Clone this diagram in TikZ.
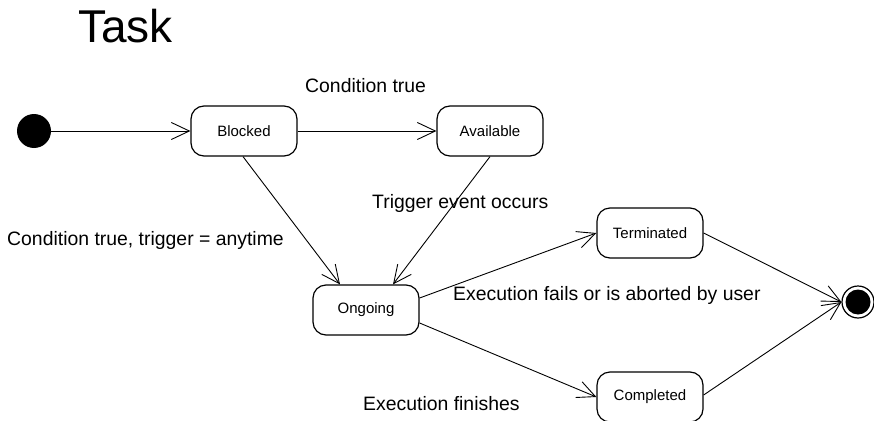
\documentclass[tikz,border=0pt]{standalone}
\usepackage{fontspec}
\setmainfont{Liberation Sans}
\usetikzlibrary{arrows.meta,calc}

\tikzset{
  state/.style={draw, line width=1.2pt, rounded corners=13pt,
    minimum width=106pt, minimum height=50pt, inner sep=0pt,
    font=\fontsize{15}{18}\selectfont},
  trans/.style={line width=0.9pt,
    -{Straight Barb[length=18pt,width=17pt,line width=0.9pt]}},
  lbl/.style={anchor=base west, inner sep=0pt,
    font=\fontsize{19.4}{23}\selectfont},
}

\begin{document}
\begin{tikzpicture}[x=1pt, y=-1pt]
  \useasboundingbox (0,0) rectangle (874,420);

  % title
  \node[anchor=base west, inner sep=0pt, font=\fontsize{46}{50}\selectfont]
    (title) at (78,43) {Task};

  % pseudo states
  \fill (34,131) circle (17pt) coordinate (init);
  \node[circle, draw, line width=1.2pt, minimum size=32pt, inner sep=0pt]
    (final) at (858,302) {};
  \fill (final.center) circle (12.5pt);

  % states
  \node[state] (blocked)    at (244,131) {Blocked};
  \node[state] (available)  at (490,131) {Available};
  \node[state] (ongoing)    at (366,310) {Ongoing};
  \node[state] (terminated) at (650,233) {Terminated};
  \node[state] (completed)  at (650,397) {Completed};

  % transitions
  \draw[trans] (51,131) -- (blocked.west);
  \draw[trans] (blocked.east) -- (available.west);
  \draw[trans] ($(blocked.south)+(-1,0)$) -- ($(ongoing.north)+(-26,0)$);
  \draw[trans] (available.south) -- ($(ongoing.north)+(27,0)$);
  \draw[trans] ($(ongoing.east)+(0,-12)$) -- (terminated.west);
  \draw[trans] ($(ongoing.east)+(0,13)$) -- (completed.west);
  \draw[trans] (terminated.east) -- (final.west);
  \draw[trans] ($(completed.east)+(0,-2)$) -- (final.west);

  % transition labels
  \node[lbl] (l1) at (305,92)  {Condition true};
  \node[lbl] (l2) at (7,245)   {Condition true, trigger = anytime};
  \node[lbl] (l3) at (372,208) {Trigger event occurs};
  \node[lbl] (l4) at (453,300) {Execution fails or is aborted by user};
  \node[lbl] (l5) at (363,410) {Execution finishes};
\end{tikzpicture}
\end{document}
